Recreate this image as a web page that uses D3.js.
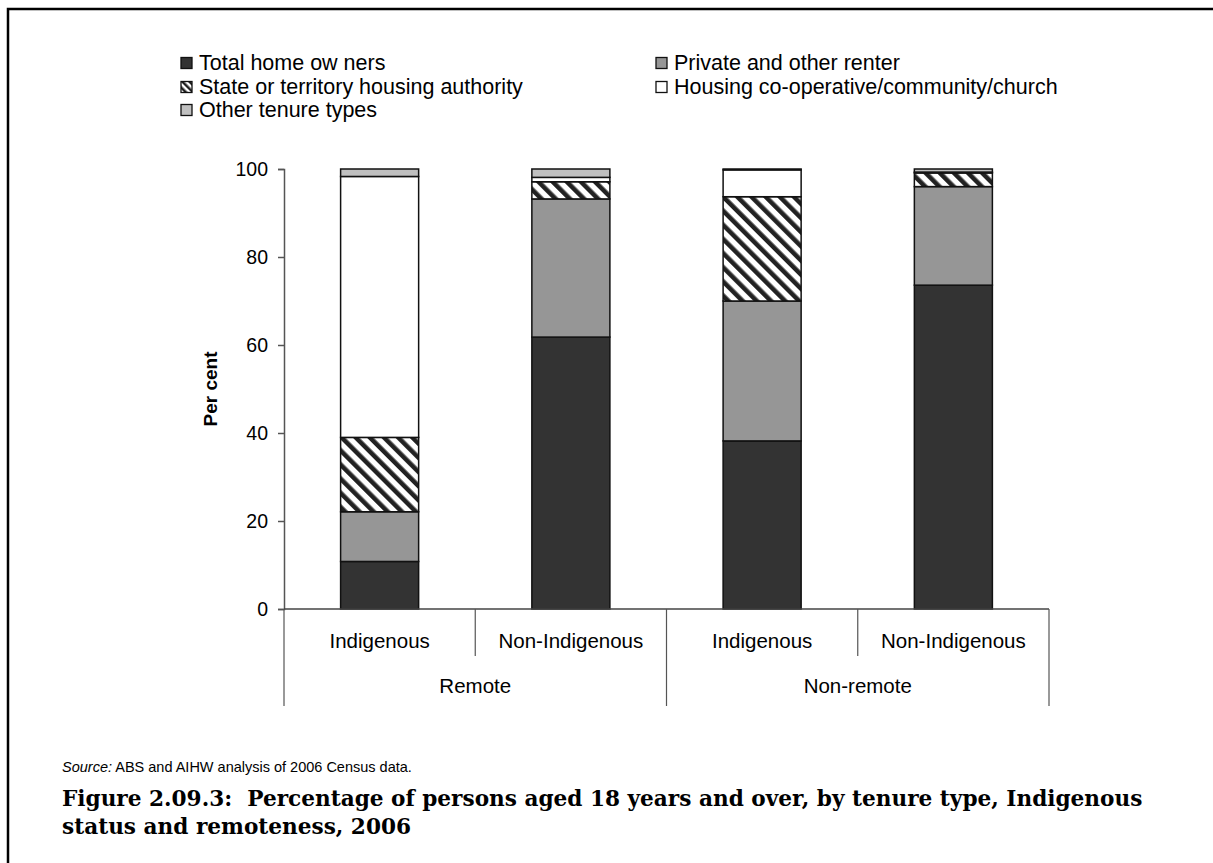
<!DOCTYPE html>
<html><head><meta charset="utf-8">
<script src="https://cdn.jsdelivr.net/npm/d3@7"></script>
<style>body{margin:0;background:#fff}svg{display:block}</style></head>
<body><svg id="c" width="1213" height="863"></svg>
<script>
const groups = ["Remote", "Remote", "Non-remote", "Non-remote"];
const categories = ["Indigenous", "Non-Indigenous", "Indigenous", "Non-Indigenous"];
const seriesNames = ["Total home ow ners", "Private and other renter", "State or territory housing authority", "Housing co-operative/community/church", "Other tenure types"];
const owners = [10.8, 61.8, 38.2, 73.6];
const privateRenter = [11.3, 31.4, 31.8, 22.4];
const stateHousing = [16.9, 3.9, 23.7, 3.1];
const coop = [59.3, 1.0, 6.1, 0.2];
const otherTenure = [1.7, 1.9, 0.2, 0.7];
const yTicks = [0, 20, 40, 60, 80, 100];

(function () {
const svg = d3.select("#c");
const font = "'Liberation Sans', Arial, sans-serif";
const defs = svg.append("defs");
const pat = defs.append("pattern").attr("id", "hatch").attr("patternUnits", "userSpaceOnUse")
  .attr("width", 10).attr("height", 10).attr("patternTransform", "rotate(-45)");
pat.append("rect").attr("width", 10).attr("height", 10).attr("fill", "#fff");
pat.append("rect").attr("x", 0).attr("width", 4.6).attr("height", 10).attr("fill", "#222");
const pat2 = defs.append("pattern").attr("id", "hatchS").attr("patternUnits", "userSpaceOnUse")
  .attr("width", 5).attr("height", 5).attr("patternTransform", "rotate(-45)");
pat2.append("rect").attr("width", 5).attr("height", 5).attr("fill", "#fff");
pat2.append("rect").attr("width", 2.5).attr("height", 5).attr("fill", "#222");

const fills = ["#333333", "#969696", "url(#hatch)", "#ffffff", "#c0c0c0"];
const legendFills = ["#333333", "#969696", "url(#hatchS)", "#ffffff", "#c0c0c0"];

// frame
svg.append("rect").attr("x", 8).attr("y", 9).attr("width", 1240).attr("height", 900)
  .attr("fill", "none").attr("stroke", "#000").attr("stroke-width", 2.5);

const pl = 284, pr = 1049, pt = 169, pb = 609;
const x = d3.scaleBand().domain(d3.range(categories.length)).range([pl, pr]).padding(0);
const y = d3.scaleLinear().domain([0, 100]).range([pb, pt]);

const data = categories.map((c, i) => ({ i, s0: owners[i], s1: privateRenter[i], s2: stateHousing[i], s3: coop[i], s4: otherTenure[i] }));
const stack = d3.stack().keys(["s0", "s1", "s2", "s3", "s4"])(data);
const bw = x.bandwidth() * 0.408;

stack.forEach((layer, k) => {
  svg.append("g").selectAll("rect").data(layer).join("rect")
    .attr("x", d => x(d.data.i) + (x.bandwidth() - bw) / 2)
    .attr("y", d => y(d[1]))
    .attr("width", bw)
    .attr("height", d => Math.max(0, y(d[0]) - y(d[1])))
    .attr("fill", fills[k]).attr("stroke", "#111").attr("stroke-width", 1.5);
});

// y axis
const yAxis = svg.append("g").attr("transform", `translate(${pl},0)`)
  .call(d3.axisLeft(y).tickValues(yTicks).tickSize(6).tickPadding(10));
yAxis.select(".domain").attr("stroke", "#555").attr("stroke-width", 1.5);
yAxis.selectAll(".tick line").attr("stroke", "#555").attr("stroke-width", 1.5);
yAxis.selectAll(".tick text").attr("font-family", font).attr("font-size", 19.5).attr("fill", "#000");

// category axis
const xa = svg.append("g");
xa.append("line").attr("x1", pl).attr("x2", pr).attr("y1", pb).attr("y2", pb)
  .attr("stroke", "#444").attr("stroke-width", 1.5);
d3.range(categories.length + 1).forEach(i => {
  const xx = i < categories.length ? x(i) : pr;
  const isGroup = i === 0 || i === categories.length || groups[i] !== groups[i - 1];
  xa.append("line").attr("x1", xx).attr("x2", xx).attr("y1", pb).attr("y2", isGroup ? 706 : 656)
    .attr("stroke", "#555").attr("stroke-width", 1.2);
});
xa.selectAll("text.sub").data(categories).join("text").attr("class", "sub")
  .attr("x", (d, i) => x(i) + x.bandwidth() / 2).attr("y", 648)
  .attr("text-anchor", "middle").attr("font-family", font).attr("font-size", 20.5).text(d => d);
const groupNames = Array.from(new Set(groups));
groupNames.forEach(g => {
  const idx = groups.map((gg, i) => gg === g ? i : -1).filter(i => i >= 0);
  const cx = (x(idx[0]) + x(idx[idx.length - 1]) + x.bandwidth()) / 2;
  xa.append("text").attr("x", cx).attr("y", 693).attr("text-anchor", "middle")
    .attr("font-family", font).attr("font-size", 20.5).text(g);
});

// y label
svg.append("text").attr("transform", `translate(217,${(pt + pb) / 2}) rotate(-90)`)
  .attr("text-anchor", "middle").attr("font-family", font).attr("font-weight", "bold")
  .attr("font-size", 19).text("Per cent");

// legend
const legPos = [[181, 63], [656, 63], [181, 87], [656, 87], [181, 110]];
seriesNames.forEach((n, k) => {
  const [lx, ly] = legPos[k];
  svg.append("rect").attr("x", lx).attr("y", ly - 5.5).attr("width", 11).attr("height", 11)
    .attr("fill", legendFills[k]).attr("stroke", "#111").attr("stroke-width", 1.3);
  svg.append("text").attr("x", lx + 18).attr("y", ly + 7).attr("font-family", font)
    .attr("font-size", 21.5).text(n);
});

// source
const src = svg.append("text").attr("x", 62).attr("y", 772).attr("font-family", font).attr("font-size", 14.5);
src.append("tspan").attr("font-style", "italic").text("Source:");
src.append("tspan").text(" ABS and AIHW analysis of 2006 Census data.");

// title
const tfont = "'DejaVu Serif', 'Liberation Serif', serif";
const t1 = svg.append("text").attr("x", 62).attr("y", 806).attr("font-family", tfont)
  .attr("font-weight", "bold").attr("font-size", 20).style("white-space", "pre")
  .text("Figure 2.09.3:  Percentage of persons aged 18 years and over, by tenure type, Indigenous");
const len = t1.node().getComputedTextLength();
const fs = Math.min(22, 20 * 1081 / len);
t1.attr("font-size", fs);
svg.append("text").attr("x", 62).attr("y", 834).attr("font-family", tfont)
  .attr("font-weight", "bold").attr("font-size", fs).text("status and remoteness, 2006");
})();
</script></body></html>
